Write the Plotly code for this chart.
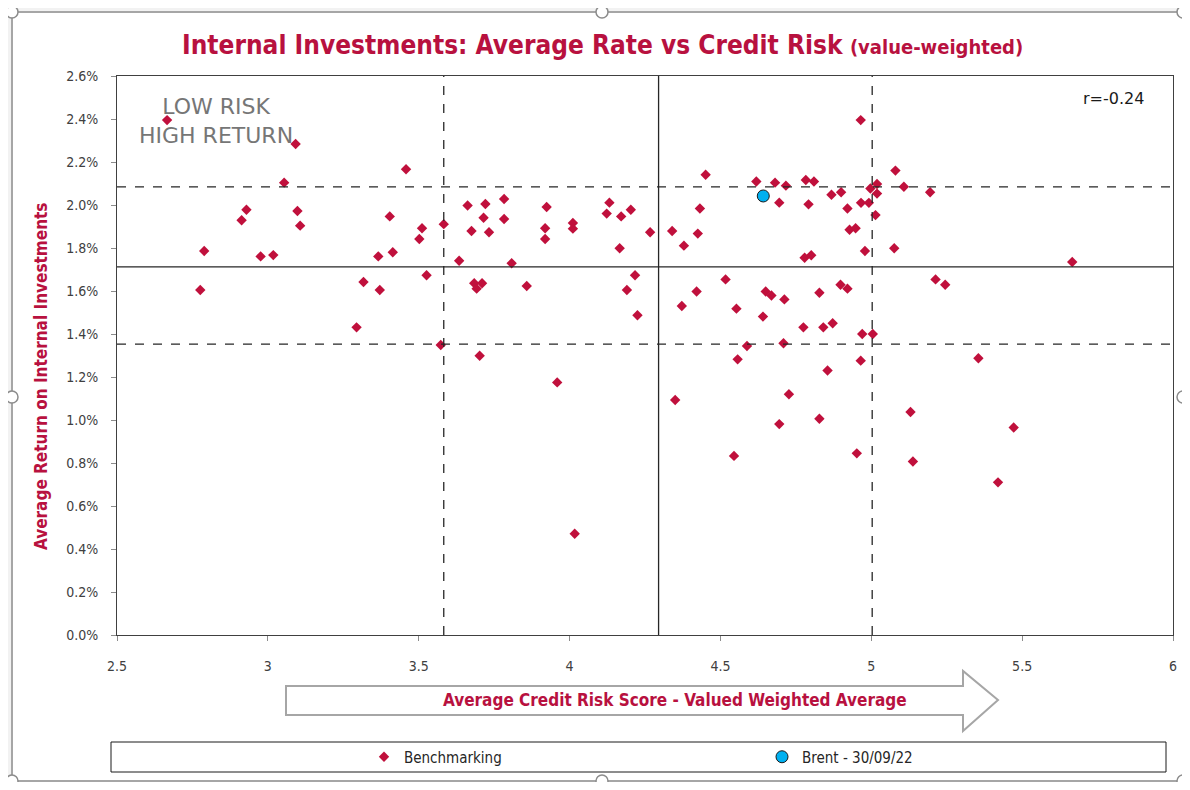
import plotly.graph_objects as go

# ---------------- data ----------------
bench_score = [
    2.666, 3.092, 3.054, 3.458, 2.929, 2.913, 3.098, 3.107, 3.404, 3.511,
    3.502, 3.583, 2.789, 2.976, 3.018, 3.366, 3.414, 3.634, 2.776, 3.317,
    3.371, 3.526, 3.294, 3.573, 3.662, 3.721, 3.783, 3.715, 3.783, 3.675,
    3.733, 3.924, 3.919, 3.919, 4.011, 4.011, 4.132, 4.123, 4.171, 4.203,
    4.267, 4.166, 3.808, 3.684, 3.692, 3.710, 3.858, 4.217, 4.190, 4.225,
    3.702, 3.959, 4.017, 4.350, 4.451, 4.619, 4.681, 4.717, 4.783, 4.810,
    4.997, 5.019, 5.019, 5.080, 4.695, 4.792, 4.868, 4.900, 4.432, 4.921,
    4.966, 4.992, 5.014, 4.340, 4.425, 4.379, 4.928, 4.948, 4.979, 5.076,
    4.779, 4.801, 4.517, 4.421, 4.650, 4.669, 4.712, 4.828, 4.898, 4.921,
    4.372, 4.553, 4.641, 4.775, 4.841, 4.872, 4.970, 5.005, 4.588, 4.709,
    4.557, 4.965, 4.855, 4.965, 5.108, 5.195, 5.666, 5.213, 5.245, 5.355,
    4.727, 4.695, 4.828, 4.545, 4.952, 5.130, 5.138, 5.472, 5.420,
]
bench_return = [
    2.395, 2.284, 2.104, 2.166, 1.978, 1.929, 1.972, 1.904, 1.947, 1.892,
    1.842, 1.911, 1.786, 1.761, 1.767, 1.761, 1.780, 1.741, 1.605, 1.642,
    1.605, 1.673, 1.431, 1.349, 1.998, 2.005, 2.028, 1.941, 1.935, 1.879,
    1.873, 1.991, 1.892, 1.842, 1.916, 1.890, 2.011, 1.960, 1.947, 1.978,
    1.873, 1.799, 1.729, 1.636, 1.611, 1.636, 1.623, 1.673, 1.605, 1.487,
    1.299, 1.175, 0.471, 1.093, 2.141, 2.109, 2.104, 2.090, 2.116, 2.109,
    2.077, 2.098, 2.053, 2.160, 2.011, 2.003, 2.048, 2.059, 1.984, 1.984,
    2.010, 2.010, 1.953, 1.879, 1.867, 1.811, 1.885, 1.892, 1.786, 1.799,
    1.755, 1.766, 1.654, 1.598, 1.598, 1.579, 1.561, 1.592, 1.629, 1.611,
    1.530, 1.518, 1.481, 1.431, 1.431, 1.450, 1.400, 1.400, 1.344, 1.357,
    1.282, 1.276, 1.230, 2.395, 2.085, 2.059, 1.735, 1.654, 1.629, 1.287,
    1.120, 0.981, 1.006, 0.833, 0.845, 1.037, 0.807, 0.965, 0.710,
]
brent_score = [4.642]
brent_return = [2.042]

# reference lines (mean and +/- one std dev)
x_lines = [3.583, 4.295, 5.003]
x_line_dash = ["dash", "solid", "dash"]
y_lines = [2.084, 1.712, 1.353]
y_line_dash = ["dash", "solid", "dash"]

x_ticks = [2.5, 3, 3.5, 4, 4.5, 5, 5.5, 6]
y_ticks = [0.0, 0.2, 0.4, 0.6, 0.8, 1.0, 1.2, 1.4, 1.6, 1.8, 2.0, 2.2, 2.4, 2.6]

title_main = "Internal Investments: Average Rate vs Credit Risk"
title_sub = "(value-weighted)"
x_title = "Average Credit Risk Score - Valued Weighted Average"
y_title = "Average Return on Internal Investments"
corr_text = "r=-0.24"
quad_text = "LOW RISK<br>HIGH RETURN"

# ---------------- layout helpers ----------------
# page has an 8px body margin: figure pixel = page pixel - 8
OFF = 8
FW, FH = 1190 - 2 * OFF, 790 - 2 * OFF
L, R, T, B = 117, 1173, 76, 635          # plot area in page pixels
PW, PH = R - L, B - T


def px(x):
    return (x - L) / PW


def py(y):
    return (B - y) / PH


CRIMSON = "#b8113f"
TFONT = "DejaVu Sans Condensed"

fig = go.Figure()
fig.add_trace(go.Scatter(
    x=bench_score, y=bench_return, mode="markers", name="Benchmarking",
    marker=dict(symbol="diamond", size=8, color="#c0103c"), legend="legend",
))
fig.add_trace(go.Scatter(
    x=brent_score, y=brent_return, mode="markers", name="Brent - 30/09/22",
    marker=dict(symbol="circle", size=12, color="#00b0f0",
                line=dict(color="#1a1a1a", width=1)), legend="legend2",
))

shapes = []
# outer chart frame
shapes.append(dict(type="rect", xref="paper", yref="paper", layer="below",
                   x0=px(12), x1=px(1183), y0=py(781), y1=py(12),
                   fillcolor="white", line=dict(color="#a6a6a6", width=2)))
for hx, hy in [(12, 12), (602, 12), (1183, 12), (12, 397), (1183, 397),
               (12, 781), (602, 781), (1183, 781)]:
    shapes.append(dict(type="circle", xref="paper", yref="paper",
                       xsizemode="pixel", ysizemode="pixel",
                       xanchor=px(hx), yanchor=py(hy),
                       x0=-6, x1=6, y0=-6, y1=6,
                       fillcolor="white", line=dict(color="#8c8c8c", width=1.5)))
# reference lines
for xv, d in zip(x_lines, x_line_dash):
    shapes.append(dict(type="line", xref="x", yref="paper", x0=xv, x1=xv, y0=0, y1=1,
                       line=dict(color="#262626", width=1.3, dash=d)))
for yv, d in zip(y_lines, y_line_dash):
    shapes.append(dict(type="line", xref="paper", yref="y", x0=0, x1=1, y0=yv, y1=yv,
                       line=dict(color="#262626", width=1.3, dash=d)))
# big arrow behind x-axis title
arrow_pts = [(286, 686), (963, 686), (963, 671), (998, 700), (963, 731), (963, 715), (286, 715)]
path = "M " + " L ".join(f"{px(a):.5f},{py(b):.5f}" for a, b in arrow_pts) + " Z"
shapes.append(dict(type="path", xref="paper", yref="paper", path=path,
                   fillcolor="white", line=dict(color="#a6a6a6", width=2)))
# legend box
shapes.append(dict(type="rect", xref="paper", yref="paper",
                   x0=px(111), x1=px(1166), y0=py(772), y1=py(742),
                   line=dict(color="#1a1a1a", width=1), fillcolor="rgba(0,0,0,0)"))

annotations = [
    dict(text=f"<b>{title_main}</b> <b><span style='font-size:20px'>{title_sub}</span></b>",
         xref="paper", yref="paper", x=px(602), y=py(45), showarrow=False,
         xanchor="center", yanchor="middle",
         font=dict(family=TFONT, size=26, color=CRIMSON)),
    dict(text=f"<b>{y_title}</b>", xref="paper", yref="paper", x=px(41), y=py(377),
         textangle=-90, showarrow=False, xanchor="center", yanchor="middle",
         font=dict(family=TFONT, size=17, color=CRIMSON)),
    dict(text=f"<b>{x_title}</b>", xref="paper", yref="paper", x=px(675), y=py(700),
         showarrow=False, xanchor="center", yanchor="middle",
         font=dict(family=TFONT, size=17, color=CRIMSON)),
    dict(text=quad_text, xref="paper", yref="paper", x=px(216), y=py(121),
         showarrow=False, xanchor="center", yanchor="middle", align="center",
         font=dict(family="DejaVu Sans", size=22, color="#767676")),
    dict(text=corr_text, xref="paper", yref="paper", x=px(1146), y=py(98),
         showarrow=False, xanchor="right", yanchor="middle",
         font=dict(family="DejaVu Sans", size=16, color="#1a1a1a")),
]

leg_common = dict(orientation="h", yanchor="middle", xanchor="left",
                  bgcolor="rgba(0,0,0,0)", borderwidth=0, itemwidth=30,
                  font=dict(family=TFONT, size=15, color="#262626"))

fig.update_layout(
    width=FW, height=FH,
    margin=dict(l=L - OFF, r=FW - (R - OFF), t=T - OFF, b=FH - (B - OFF), pad=0,
                autoexpand=False),
    paper_bgcolor="#f2f2f2", plot_bgcolor="#d9d9d9",
    font=dict(family="DejaVu Sans", size=13, color="#404040"),
    shapes=shapes, annotations=annotations,
    showlegend=True,
    legend=dict(x=px(364), y=py(757), **leg_common),
    legend2=dict(x=px(762), y=py(757), **leg_common),
)
fig.update_xaxes(range=[2.5, 6], tickvals=x_ticks, ticktext=[f"{v:g}" for v in x_ticks],
                 showgrid=False, zeroline=False, showline=True, mirror=True,
                 linecolor="#404040", linewidth=1, ticks="outside", ticklen=5,
                 tickcolor="#8c8c8c", ticklabelstandoff=13, automargin=False,
                 tickfont=dict(family=TFONT, size=14, color="#404040"))
fig.update_yaxes(range=[0, 2.6], tickvals=y_ticks, ticktext=[f"{v:.1f}%" for v in y_ticks],
                 showgrid=False, zeroline=False, showline=True, mirror=True,
                 linecolor="#404040", linewidth=1, ticks="outside", ticklen=5,
                 tickcolor="#8c8c8c", ticklabelstandoff=10, automargin=False,
                 tickfont=dict(family=TFONT, size=14, color="#404040"))

fig.write_html("out.html")
